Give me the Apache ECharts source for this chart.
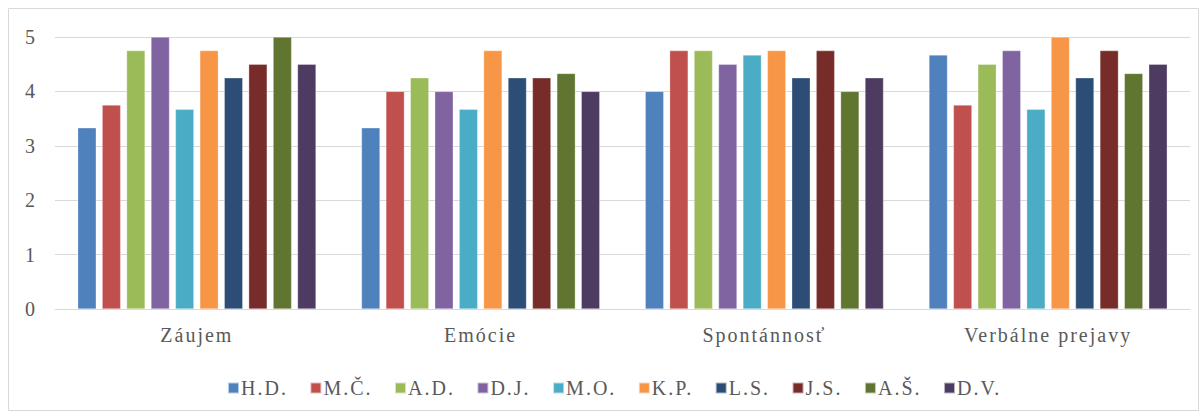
<!DOCTYPE html>
<html>
<head>
<meta charset="utf-8">
<script src="https://cdn.jsdelivr.net/npm/echarts@6/dist/echarts.min.js"></script>
<style>
  html, body { margin: 0; padding: 0; background: #fff; }
  #chart { width: 1204px; height: 419px; }
  /* wide tracking on all chart text */
  #chart text { letter-spacing: 2px; font-family: 'Liberation Serif', serif; }
</style>
</head>
<body>
<div id="chart"></div>
<script>
// Categories on the x axis
const categories = ['Záujem', 'Emócie', 'Spontánnosť', 'Verbálne prejavy'];

// One series per person
const names = ['H.D.', 'M.Č.', 'A.D.', 'D.J.', 'M.O.', 'K.P.', 'L.S.', 'J.S.', 'A.Š.', 'D.V.'];
const HD = [3.33, 3.33, 4.00, 4.67];
const MC = [3.75, 4.00, 4.75, 3.75];
const AD = [4.75, 4.25, 4.75, 4.50];
const DJ = [5.00, 4.00, 4.50, 4.75];
const MO = [3.67, 3.67, 4.67, 3.67];
const KP = [4.75, 4.75, 4.75, 5.00];
const LS = [4.25, 4.25, 4.25, 4.25];
const JS = [4.50, 4.25, 4.75, 4.75];
const AS = [5.00, 4.33, 4.00, 4.33];
const DV = [4.50, 4.00, 4.25, 4.50];
const seriesValues = [HD, MC, AD, DJ, MO, KP, LS, JS, AS, DV];

const colors = ['#4f81bd', '#c0504d', '#9bbb59', '#8064a2', '#4bacc6',
                '#f79646', '#2c4d75', '#772c2a', '#5f7530', '#4d3b62'];

const yTicks = [0, 1, 2, 3, 4, 5];

const font = 'Liberation Serif, serif';

const chart = echarts.init(document.getElementById('chart'), null, { renderer: 'svg' });
chart.setOption({
  animation: false,
  color: colors,
  textStyle: { fontFamily: font },
  graphic: [{
    type: 'rect',
    shape: { x: 8.5, y: 8.5, width: 1190, height: 402 },
    style: { fill: 'none', stroke: '#d9d9d9', lineWidth: 1 },
    silent: true
  }],
  grid: { left: 55, right: 14, top: 37, bottom: 110 },
  legend: {
    top: 378,
    left: 227,
    padding: 0,
    itemWidth: 11,
    itemHeight: 11,
    itemGap: 29.5,
    icon: 'rect',
    textStyle: { fontFamily: font, fontSize: 20, color: '#595959', padding: [0, 0, 0, -3] },
    data: names
  },
  xAxis: {
    type: 'category',
    data: categories,
    axisLine: { lineStyle: { color: '#d9d9d9', width: 1 } },
    axisTick: { show: false },
    axisLabel: { fontFamily: font, fontSize: 20, color: '#595959', margin: 16 }
  },
  yAxis: {
    type: 'value',
    min: yTicks[0],
    max: yTicks[yTicks.length - 1],
    interval: 1,
    axisLine: { show: false },
    axisTick: { show: false },
    splitLine: { lineStyle: { color: '#d9d9d9', width: 1 } },
    axisLabel: { fontFamily: font, fontSize: 20, color: '#595959', margin: 18 }
  },
  series: names.map((n, i) => ({
    name: n,
    type: 'bar',
    data: seriesValues[i],
    barWidth: 18.5,
    barGap: '32%',
    itemStyle: { borderColor: 'rgba(255,255,255,0.6)', borderWidth: 0.5 }
  }))
});
</script>
</body>
</html>
